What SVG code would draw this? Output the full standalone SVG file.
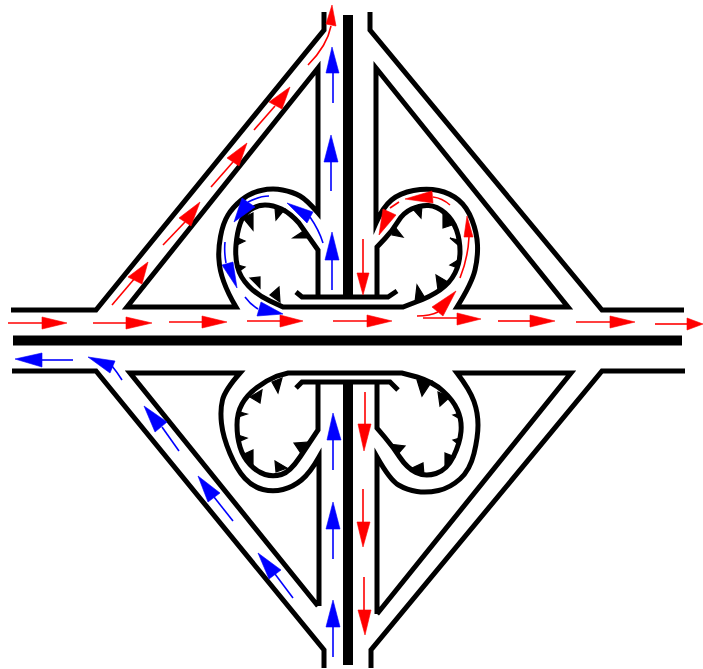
<svg xmlns="http://www.w3.org/2000/svg" width="703" height="669" viewBox="0 0 703 669">
<style>
.road{fill:none;stroke:#000;stroke-width:5;stroke-linejoin:miter;stroke-miterlimit:8}
.spike{fill:#000;stroke:#000;stroke-width:1.2}
.r{fill:none;stroke:#f00;stroke-width:1.6}
.b{fill:none;stroke:#00f;stroke-width:1.6}
.rh{fill:#f00;stroke:#f00;stroke-width:.6}
.bh{fill:#00f;stroke:#00f;stroke-width:.6}
</style>
<rect width="703" height="669" fill="#fff"/>
<g id="medians">
<rect x="13" y="335.500" width="669" height="10"/>
<rect x="343" y="15" width="10" height="283"/>
<rect x="343" y="382" width="10" height="283"/>
</g>
<g id="roads">
<path class="road" d="M11,310 H96 L324,30 V12"/>
<path class="road" d="M370,12 V30 L602,310 H684"/>
<path class="road" d="M12,371 H96 L324,650 V668"/>
<path class="road" d="M685,371 H602 L371,650 V668"/>
<path class="road" d="M318,68 L127,307 H236 Q220,280 219,260 Q218,250 220.500,236.500 Q223,223 228,215 Q233,207 241.500,200 Q250,193 261,190.500 Q272,188 282.500,190 Q293,192 300,196 Q307,200 318,213 Z"/>
<path class="road" d="M376,68 V223 Q383,207 391.500,200 Q400,193 413.500,190.500 Q427,188 438.500,190.500 Q450,193 458.500,200 Q467,207 472,220 Q477,233 477.500,245 Q478,257 475,270 Q472,283 457,307 H568 Z"/>
<path class="road" d="M318,297 V250 L299,223 Q290,213 281.500,209 Q273,205 265,205 Q257,205 250,210 Q243,215 240,224 Q237,233 236,245 Q235,257 237.500,267 Q240,277 248.500,286 Q257,295 270,301 L283,307 H403 L416,302 Q430,297 440,290 Q450,283 455,273 Q460,263 460,251.500 Q460,240 456.500,230 Q453,220 445,213 Q437,206 428.500,205.500 Q420,205 411.500,209 Q403,213 398,221.500 Q393,230 385,238.500 L377,247 V297"/>
<path class="road" d="M296,292 L302,297 H388 L397,291"/>
<path class="road" d="M318,606 L130,373 H240 Q225,390 222.500,400 Q220,410 221.500,423.500 Q223,437 230,453.500 Q237,470 245,478.500 Q253,487 263,489.500 Q273,492 283,489.500 Q293,487 301.500,480 Q310,473 319,457 V606"/>
<path class="road" d="M377,614 L571,373 H457 Q470,390 474,401.500 Q478,413 478,425 Q478,437 474,453.500 Q470,470 460,479 Q450,488 438.500,490.500 Q427,493 417,491.500 Q407,490 398.500,485 Q390,480 377,457 V614"/>
<path class="road" d="M318,383 V430 L300,457 Q290,472 281.500,474.500 Q273,477 265,474.500 Q257,472 250,464.500 Q243,457 240,447 Q237,437 237,425 Q237,413 242,404 Q247,395 257,387.500 Q267,380 277,376 L288,373 H402 L417,377 Q433,382 443,391 Q453,400 457.500,410 Q462,420 461,431.500 Q460,443 453.500,456.500 Q447,470 436,473.500 Q425,477 416,472.500 Q407,468 400,457.500 Q393,447 385,437.500 L377,428 V383"/>
<path class="road" d="M296,388 L302,382 H390 L398,390"/>
</g>
<g id="spikes">
<polygon class="spike" points="275,208 285,209 276,220"/>
<polygon class="spike" points="305,230 293,238 308,238"/>
<polygon class="spike" points="243,218 253,213 253,230"/>
<polygon class="spike" points="238,238 245,241 237,245"/>
<polygon class="spike" points="238,265 245,267 238,272"/>
<polygon class="spike" points="250,278 260,277 260,288"/>
<polygon class="spike" points="270,295 279,287 280,302"/>
<polygon class="spike" points="412,208 422,205 421,218"/>
<polygon class="spike" points="443,213 452,225 443,228"/>
<polygon class="spike" points="450,238 458,240 458,245"/>
<polygon class="spike" points="450,265 458,260 458,268"/>
<polygon class="spike" points="436,275 448,282 438,290"/>
<polygon class="spike" points="417,285 425,298 415,302"/>
<polygon class="spike" points="392,235 403,237 395,227"/>
<polygon class="spike" points="272,382 282,378 278,393"/>
<polygon class="spike" points="250,397 262,390 260,403"/>
<polygon class="spike" points="240,412 247,414 238,417"/>
<polygon class="spike" points="238,435 247,438 238,442"/>
<polygon class="spike" points="242,455 253,450 253,465"/>
<polygon class="spike" points="275,461 287,468 276,472"/>
<polygon class="spike" points="294,443 310,442 302,455"/>
<polygon class="spike" points="417,380 432,381 422,396"/>
<polygon class="spike" points="438,392 450,397 440,406"/>
<polygon class="spike" points="453,415 460,413 460,419"/>
<polygon class="spike" points="453,440 460,438 458,444"/>
<polygon class="spike" points="445,453 455,457 445,465"/>
<polygon class="spike" points="412,468 423,463 424,475"/>
<polygon class="spike" points="389,444 405,446 397,455"/>
</g>
<g id="red-arrows">
<path class="r" d="M8,323 H42"/><polygon class="rh" points="42,317 67,323 42,329"/>
<path class="r" d="M93,323 H126"/><polygon class="rh" points="126,317 152,323 126,329"/>
<path class="r" d="M169,322 H202"/><polygon class="rh" points="202,316 227,322 202,328"/>
<path class="r" d="M247,321 H280"/><polygon class="rh" points="280,315 303,321 280,327"/>
<path class="r" d="M333,321 H367"/><polygon class="rh" points="367,315 392,321 367,327"/>
<path class="r" d="M423,318 H457"/><polygon class="rh" points="457,313 481,319 457,325"/>
<path class="r" d="M498,321 H530"/><polygon class="rh" points="530,315 555,321 530,327"/>
<path class="r" d="M576,322 H610"/><polygon class="rh" points="610,316 635,322 610,328"/>
<path class="r" d="M655,324 H687"/><polygon class="rh" points="687,318 703,324 687,330"/>
<path class="r" d="M112,305 L135,278"/><polygon class="rh" points="148,262 128,277 142,284"/>
<path class="r" d="M163,245 L185,222"/><polygon class="rh" points="200,202 179,218 191,226"/>
<path class="r" d="M211,187 L233,162"/><polygon class="rh" points="247,143 227,158 239,166"/>
<path class="r" d="M254,130 L275,106"/><polygon class="rh" points="290,87 269,102 282,109"/>
<path class="r" d="M308,65 Q327,46 331,26"/><polygon class="rh" points="332,5 326,24 336,26"/>
<path class="r" d="M363,239 V273"/><polygon class="rh" points="357,273 369,273 363,295"/>
<path class="r" d="M365,392 V424"/><polygon class="rh" points="358,424 371,424 364,451"/>
<path class="r" d="M363,489 V522"/><polygon class="rh" points="357,522 370,522 363,547"/>
<path class="r" d="M364,577 V610"/><polygon class="rh" points="358,610 371,610 365,635"/>
<path class="r" d="M450,205 Q442,198 433,197"/><polygon class="rh" points="405,199 432,191 433,203"/>
<path class="r" d="M399,202 L390,208"/><polygon class="rh" points="379,235 383,209 396,215"/>
<path class="r" d="M460,278 Q468,258 469,237"/><polygon class="rh" points="467,216 464,237 473,237"/>
<path class="r" d="M417,316 Q430,316 438,312"/><polygon class="rh" points="456,291 432,307 443,316"/>
</g>
<g id="blue-arrows">
<path class="b" d="M73,360 H42"/><polygon class="bh" points="15,359 42,353 42,367"/>
<path class="b" d="M122,380 Q117,372 112,366"/><polygon class="bh" points="88,357 115,361 110,373"/>
<path class="b" d="M179,451 L162,427"/><polygon class="bh" points="144,406 155,432 167,422"/>
<path class="b" d="M233,521 L214,497"/><polygon class="bh" points="198,476 208,502 220,493"/>
<path class="b" d="M293,598 L275,574"/><polygon class="bh" points="258,553 269,579 281,570"/>
<path class="b" d="M333,103 V73"/><polygon class="bh" points="332,47 326,73 339,73"/>
<path class="b" d="M331,191 V162"/><polygon class="bh" points="331,135 324,162 338,162"/>
<path class="b" d="M332,290 V260"/><polygon class="bh" points="332,232 325,260 339,260"/>
<path class="b" d="M333,470 V440"/><polygon class="bh" points="333,413 327,440 341,440"/>
<path class="b" d="M333,559 V529"/><polygon class="bh" points="333,502 326,529 340,529"/>
<path class="b" d="M333,657 V627"/><polygon class="bh" points="333,600 326,627 340,627"/>
<path class="b" d="M323,243 Q319,230 310,217"/><polygon class="bh" points="287,203 313,212 307,223"/>
<path class="b" d="M269,196 Q260,196 248,202"/><polygon class="bh" points="234,222 242,198 255,207"/>
<path class="b" d="M225,242 Q224,252 226,263"/><polygon class="bh" points="237,288 222,265 233,262"/>
<path class="b" d="M245,297 Q250,304 258,309"/><polygon class="bh" points="283,314 261,302 257,316"/>
</g>
</svg>
